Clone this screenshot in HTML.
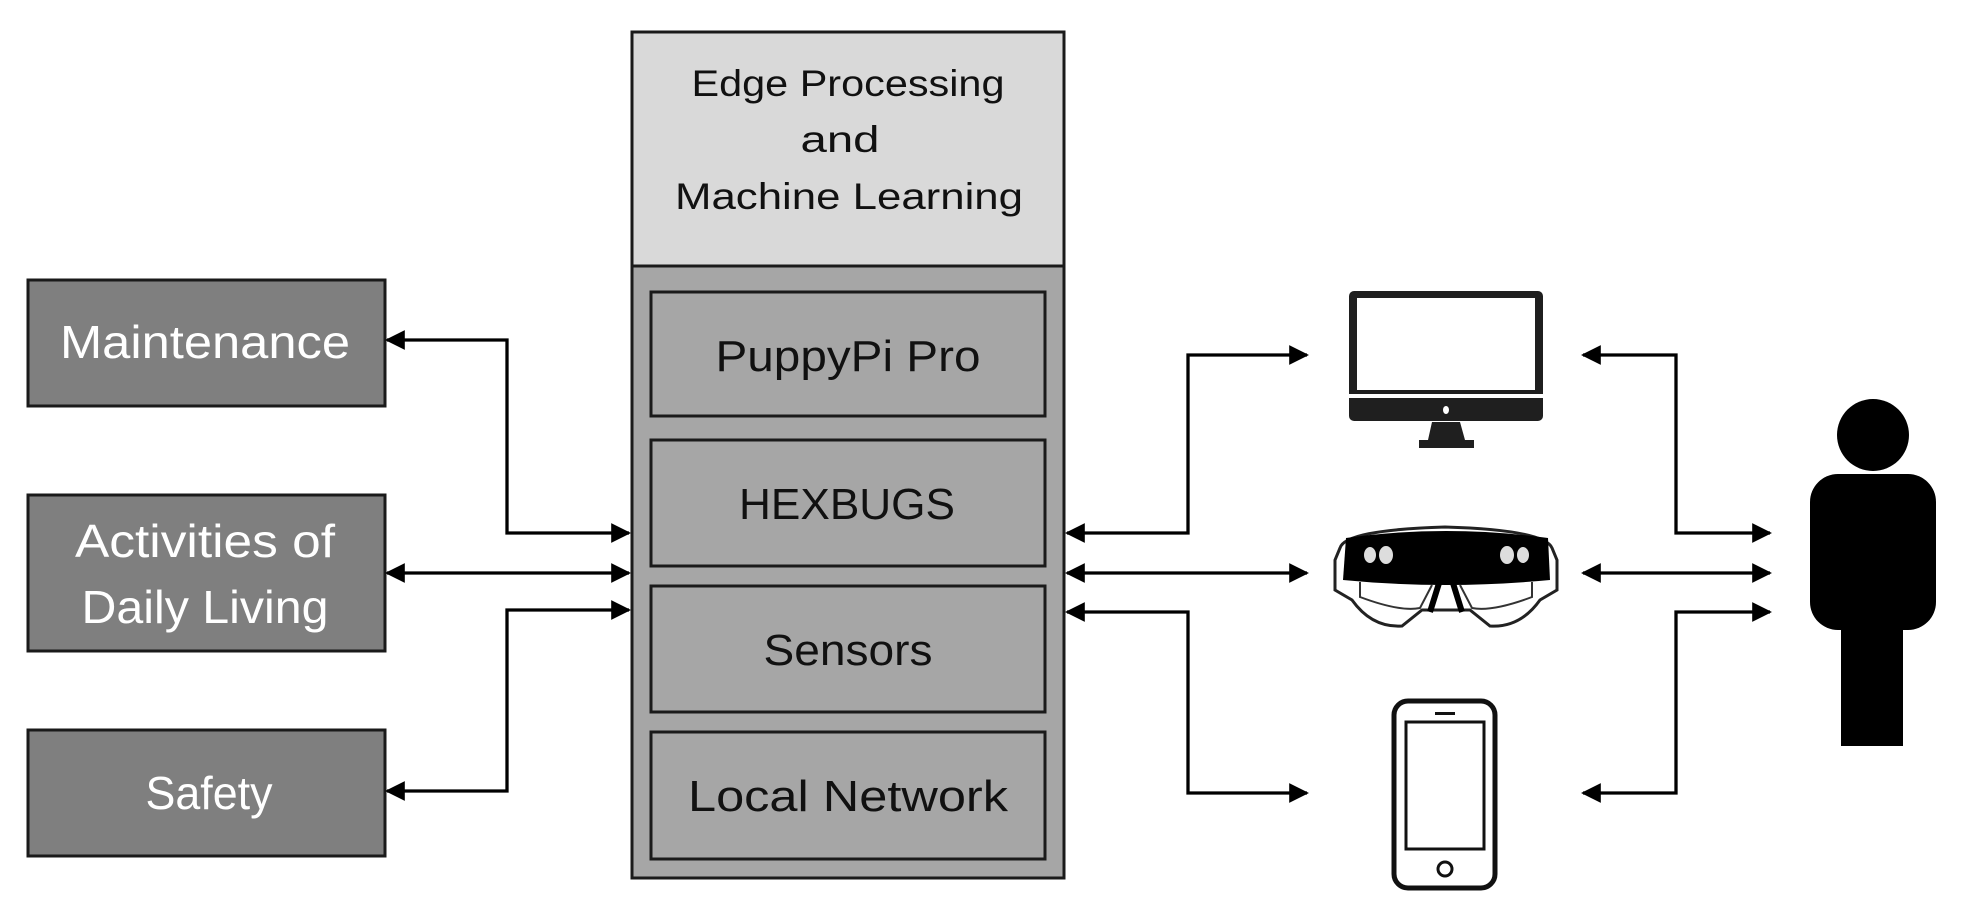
<!DOCTYPE html>
<html><head><style>html,body{margin:0;padding:0;background:#fff}svg{display:block}</style></head>
<body>
<svg width="1961" height="910" viewBox="0 0 1961 910" xmlns="http://www.w3.org/2000/svg" font-family="'Liberation Sans', sans-serif">
<defs>
<marker id="a" viewBox="0 0 10 10" refX="9" refY="5" markerWidth="6" markerHeight="6" orient="auto-start-reverse" markerUnits="strokeWidth">
<path d="M0,0 L10,5 L0,10 z" fill="#000"/></marker>
</defs>
<!-- central box -->
<rect x="632" y="32" width="432" height="234" fill="#d9d9d9" stroke="#1a1a1a" stroke-width="3"/>
<rect x="632" y="266" width="432" height="612" fill="#a6a6a6" stroke="#1a1a1a" stroke-width="3"/>
<rect x="651" y="292" width="394" height="124" fill="#a6a6a6" stroke="#1a1a1a" stroke-width="3"/>
<rect x="651" y="440" width="394" height="126" fill="#a6a6a6" stroke="#1a1a1a" stroke-width="3"/>
<rect x="651" y="586" width="394" height="126" fill="#a6a6a6" stroke="#1a1a1a" stroke-width="3"/>
<rect x="651" y="732" width="394" height="127" fill="#a6a6a6" stroke="#1a1a1a" stroke-width="3"/>
<g fill="#111" text-anchor="middle">
<text x="848" y="96" font-size="37" textLength="313" lengthAdjust="spacingAndGlyphs">Edge Processing</text>
<text x="840" y="152" font-size="37" textLength="79" lengthAdjust="spacingAndGlyphs">and</text>
<text x="849" y="209" font-size="37" textLength="348" lengthAdjust="spacingAndGlyphs">Machine Learning</text>
<text x="848" y="371" font-size="44" textLength="265" lengthAdjust="spacingAndGlyphs">PuppyPi Pro</text>
<text x="847" y="519" font-size="44" textLength="216" lengthAdjust="spacingAndGlyphs">HEXBUGS</text>
<text x="848" y="665" font-size="44" textLength="169" lengthAdjust="spacingAndGlyphs">Sensors</text>
<text x="848" y="811" font-size="44" textLength="320" lengthAdjust="spacingAndGlyphs">Local Network</text>
</g>
<!-- left boxes -->
<rect x="28" y="280" width="357" height="126" fill="#7f7f7f" stroke="#1a1a1a" stroke-width="3"/>
<rect x="28" y="495" width="357" height="156" fill="#7f7f7f" stroke="#1a1a1a" stroke-width="3"/>
<rect x="28" y="730" width="357" height="126" fill="#7f7f7f" stroke="#1a1a1a" stroke-width="3"/>
<g fill="#fff" text-anchor="middle">
<text x="205" y="358" font-size="46" textLength="290" lengthAdjust="spacingAndGlyphs">Maintenance</text>
<text x="205" y="557" font-size="46" textLength="260" lengthAdjust="spacingAndGlyphs">Activities of</text>
<text x="205" y="623" font-size="46" textLength="247" lengthAdjust="spacingAndGlyphs">Daily Living</text>
<text x="209" y="809" font-size="46" textLength="127" lengthAdjust="spacingAndGlyphs">Safety</text>
</g>
<!-- connectors -->
<g stroke="#000" stroke-width="3.3" fill="none" marker-start="url(#a)" marker-end="url(#a)">
<path d="M387,340 H507 V533 H629"/>
<path d="M387,573 H629"/>
<path d="M387,791 H507 V610 H629"/>
<path d="M1067,533 H1188 V355 H1307"/>
<path d="M1067,573 H1307"/>
<path d="M1067,612 H1188 V793 H1307"/>
<path d="M1583,355 H1676 V533 H1770"/>
<path d="M1583,573 H1770"/>
<path d="M1583,793 H1676 V612 H1770"/>
</g>
<!-- monitor -->
<rect x="1349" y="291" width="194" height="130" rx="5" fill="#1f1f1f"/>
<rect x="1357" y="298" width="178" height="92" fill="#fff"/>
<rect x="1349" y="394" width="194" height="4" fill="#fff"/>
<ellipse cx="1446" cy="410" rx="3" ry="4" fill="#fff"/>
<path d="M1432,422 H1460 L1465,440 H1474 V448 H1419 V440 H1428 Z" fill="#1f1f1f"/>
<!-- goggles -->
<path d="M1340,548 Q1345,530 1445,527 Q1545,530 1552,548 L1557,560 V590 L1540,600 Q1520,628 1490,626 L1470,610 H1422 L1402,626 Q1372,628 1352,600 L1335,590 V560 Z" fill="#fff" stroke="#222" stroke-width="3"/>
<path d="M1346,538 Q1445,524 1548,538 L1550,580 Q1445,590 1343,580 Z" fill="#000"/>
<ellipse cx="1370" cy="555" rx="6" ry="8" fill="#ddd"/><ellipse cx="1386" cy="555" rx="7" ry="9" fill="#ddd"/>
<ellipse cx="1507" cy="555" rx="7" ry="9" fill="#ddd"/><ellipse cx="1523" cy="555" rx="6" ry="8" fill="#ddd"/>
<path d="M1360,582 V597 Q1400,612 1420,608 L1432,585 M1460,585 L1472,608 Q1492,612 1532,597 V582" fill="none" stroke="#333" stroke-width="2"/>
<path d="M1430,612 L1440,580 Q1446,575 1452,580 L1462,612" fill="none" stroke="#000" stroke-width="6"/>
<!-- phone -->
<rect x="1394" y="701" width="101" height="187" rx="14" fill="#fff" stroke="#111" stroke-width="5"/>
<rect x="1406" y="722" width="78" height="127" fill="#fff" stroke="#111" stroke-width="3"/>
<rect x="1435" y="712" width="20" height="3" fill="#111"/>
<circle cx="1445" cy="869" r="7" fill="#fff" stroke="#111" stroke-width="3"/>
<!-- person -->
<ellipse cx="1873" cy="435" rx="36" ry="36" fill="#000"/>
<rect x="1810" y="474" width="126" height="156" rx="28" fill="#000"/>
<rect x="1841" y="600" width="62" height="146" fill="#000"/>
</svg>
</body></html>
